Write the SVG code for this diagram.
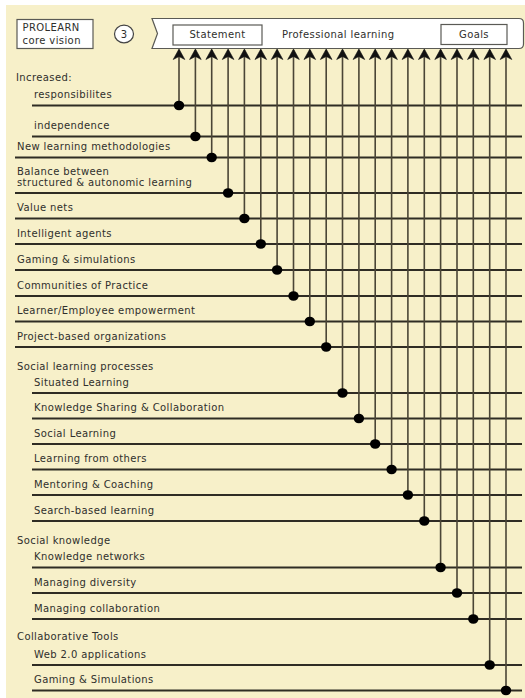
<svg xmlns="http://www.w3.org/2000/svg" width="525" height="698" viewBox="0 0 525 698">
<defs>
<style>
text{font-family:"DejaVu Sans","Liberation Sans",sans-serif;font-size:10px;letter-spacing:0.4px;fill:#2f2f2c}
.h{stroke:#2f2c24;stroke-width:1.8;fill:none}
.v{stroke:#4a4536;stroke-width:1.6;fill:none;marker-end:url(#arr);marker-start:url(#dot)}
.box{fill:#fff;stroke:#5a5a55;stroke-width:1.2}
</style>
<marker id="arr" markerUnits="userSpaceOnUse" markerWidth="16" markerHeight="16" viewBox="-13 -8 16 16" refX="0" refY="0" orient="auto">
<path d="M1,0 L-9.5,-5.8 L-6.5,0 L-9.5,5.8 Z" fill="#111" stroke="#111" stroke-width="0.6" stroke-linejoin="round"/>
</marker>
<marker id="dot" markerUnits="userSpaceOnUse" markerWidth="12" markerHeight="12" viewBox="-6 -6 12 12" refX="0" refY="0" orient="0">
<ellipse cx="0" cy="0" rx="5.2" ry="4.8" fill="#000"/>
</marker>
</defs>
<rect x="0" y="0" width="525" height="698" fill="#ffffff"/>
<rect x="6" y="5" width="519" height="693" fill="#f7f0c9"/>

<g id="header">
<rect class="box" x="17" y="19.5" width="76" height="29"/>
<text x="22.5" y="31">PROLEARN</text>
<text x="22.5" y="44">core vision</text>
<ellipse cx="124" cy="34" rx="9.5" ry="8.8" fill="#fff" stroke="#444" stroke-width="1.2"/>
<text x="124" y="37.5" text-anchor="middle" style="letter-spacing:0">3</text>
</g>

<g id="banner">
<path class="box" d="M152,18.5 L519,18.5 Q523.5,18.5 523.5,23 L523.5,44 Q523.5,48.5 519,48.5 L152,48.5 L157.5,33.5 Z"/>
<rect class="box" x="173" y="25" width="89" height="20"/>
<text x="217.5" y="37.5" text-anchor="middle">Statement</text>
<text x="282" y="37.5">Professional learning</text>
<rect class="box" x="441" y="24.5" width="66" height="20"/>
<text x="474" y="37.5" text-anchor="middle">Goals</text>
</g>

<g id="labels-headings">
<text x="16" y="80.5">Increased:</text>
<text x="17" y="369.5">Social learning processes</text>
<text x="17" y="543.5">Social knowledge</text>
<text x="17" y="640">Collaborative Tools</text>
</g>

<g id="n1"><text x="34" y="98.2">responsibilites</text><line class="h" x1="32" y1="105.5" x2="522" y2="105.5"/></g>
<g id="n2"><text x="34" y="129.2">independence</text><line class="h" x1="32" y1="136.5" x2="522" y2="136.5"/></g>
<g id="n3"><text x="17" y="150.2">New learning methodologies</text><line class="h" x1="15" y1="157.5" x2="522" y2="157.5"/></g>
<g id="n4"><text x="17" y="174.5">Balance between</text><text x="17" y="186">structured &amp; autonomic learning</text><line class="h" x1="15" y1="193" x2="522" y2="193"/></g>
<g id="n5"><text x="17" y="211.2">Value nets</text><line class="h" x1="15" y1="218.5" x2="522" y2="218.5"/></g>
<g id="n6"><text x="17" y="236.7">Intelligent agents</text><line class="h" x1="15" y1="244" x2="522" y2="244"/></g>
<g id="n7"><text x="17" y="262.7">Gaming &amp; simulations</text><line class="h" x1="15" y1="270" x2="522" y2="270"/></g>
<g id="n8"><text x="17" y="288.7">Communities of Practice</text><line class="h" x1="15" y1="296" x2="522" y2="296"/></g>
<g id="n9"><text x="17" y="314.2">Learner/Employee empowerment</text><line class="h" x1="15" y1="321.5" x2="522" y2="321.5"/></g>
<g id="n10"><text x="17" y="339.7">Project-based organizations</text><line class="h" x1="15" y1="347" x2="522" y2="347"/></g>
<g id="n11"><text x="34" y="385.7">Situated Learning</text><line class="h" x1="32" y1="393" x2="522" y2="393"/></g>
<g id="n12"><text x="34" y="411.2">Knowledge Sharing &amp; Collaboration</text><line class="h" x1="32" y1="418.5" x2="522" y2="418.5"/></g>
<g id="n13"><text x="34" y="436.7">Social Learning</text><line class="h" x1="32" y1="444" x2="522" y2="444"/></g>
<g id="n14"><text x="34" y="462.2">Learning from others</text><line class="h" x1="32" y1="469.5" x2="522" y2="469.5"/></g>
<g id="n15"><text x="34" y="487.7">Mentoring &amp; Coaching</text><line class="h" x1="32" y1="495" x2="522" y2="495"/></g>
<g id="n16"><text x="34" y="513.7">Search-based learning</text><line class="h" x1="32" y1="521" x2="522" y2="521"/></g>
<g id="n17"><text x="34" y="560.2">Knowledge networks</text><line class="h" x1="32" y1="567.5" x2="522" y2="567.5"/></g>
<g id="n18"><text x="34" y="585.7">Managing diversity</text><line class="h" x1="32" y1="593" x2="522" y2="593"/></g>
<g id="n19"><text x="34" y="611.7">Managing collaboration</text><line class="h" x1="32" y1="619" x2="522" y2="619"/></g>
<g id="n20"><text x="34" y="657.7">Web 2.0 applications</text><line class="h" x1="32" y1="665" x2="522" y2="665"/></g>
<g id="n21"><text x="34" y="683.2">Gaming &amp; Simulations</text><line class="h" x1="32" y1="690.5" x2="522" y2="690.5"/></g>

<g id="connectors">
<line class="v" x1="179" y1="105.5" x2="179" y2="50"/>
<line class="v" x1="195.4" y1="136.5" x2="195.4" y2="50"/>
<line class="v" x1="211.7" y1="157.5" x2="211.7" y2="50"/>
<line class="v" x1="228.1" y1="193" x2="228.1" y2="50"/>
<line class="v" x1="244.4" y1="218.5" x2="244.4" y2="50"/>
<line class="v" x1="260.8" y1="244" x2="260.8" y2="50"/>
<line class="v" x1="277.1" y1="270" x2="277.1" y2="50"/>
<line class="v" x1="293.5" y1="296" x2="293.5" y2="50"/>
<line class="v" x1="309.8" y1="321.5" x2="309.8" y2="50"/>
<line class="v" x1="326.2" y1="347" x2="326.2" y2="50"/>
<line class="v" x1="342.5" y1="393" x2="342.5" y2="50"/>
<line class="v" x1="358.9" y1="418.5" x2="358.9" y2="50"/>
<line class="v" x1="375.2" y1="444" x2="375.2" y2="50"/>
<line class="v" x1="391.6" y1="469.5" x2="391.6" y2="50"/>
<line class="v" x1="407.9" y1="495" x2="407.9" y2="50"/>
<line class="v" x1="424.3" y1="521" x2="424.3" y2="50"/>
<line class="v" x1="440.6" y1="567.5" x2="440.6" y2="50"/>
<line class="v" x1="457" y1="593" x2="457" y2="50"/>
<line class="v" x1="473.3" y1="619" x2="473.3" y2="50"/>
<line class="v" x1="489.7" y1="665" x2="489.7" y2="50"/>
<line class="v" x1="506" y1="690.5" x2="506" y2="50"/>
</g>
</svg>
